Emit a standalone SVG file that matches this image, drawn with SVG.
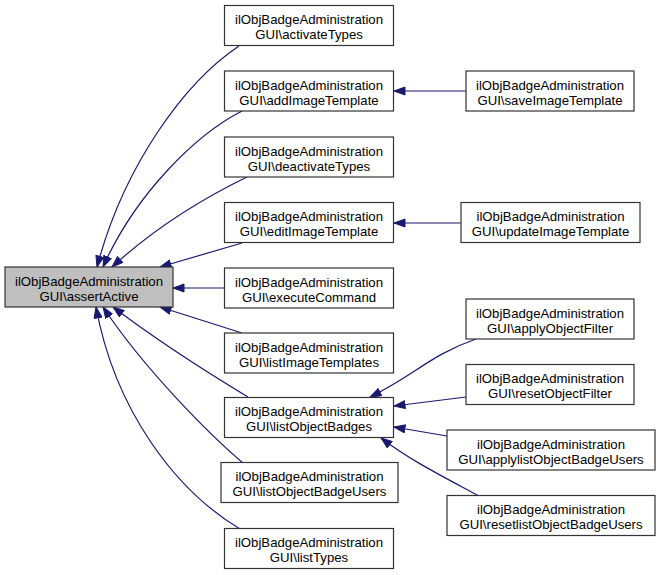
<svg xmlns="http://www.w3.org/2000/svg" width="660" height="575" viewBox="0 0 660 575">
<style>
.n rect{fill:#fff;stroke:#333;stroke-width:1.2}
.n.main rect{fill:#bfbfbf}
.n text{font-family:"Liberation Sans",Arial,sans-serif;font-size:13.2px;fill:#000;text-anchor:middle}
.e path{fill:none;stroke:#191970;stroke-width:1.2;marker-end:url(#ah)}
</style>
<defs>
<marker id="ah" markerUnits="userSpaceOnUse" markerWidth="13" markerHeight="10" refX="11.5" refY="4.5" orient="auto">
<path d="M0.5,0.5 L11.5,4.5 L0.5,8.5 z" fill="#191970" stroke="#191970" stroke-width="1"/>
</marker>
</defs>
<rect width="660" height="575" fill="#fff"/>
<g id="edges" class="e">
<path d="M239,46 C185,82 124,165 97,267"/>
<path d="M242,111 C195,135 135,195 103,267"/>
<path d="M247,177 C210,195 158,225 112,267"/>
<path d="M242,243 L160,267"/>
<path d="M225,288 L173,288"/>
<path d="M242,333 L160,307"/>
<path d="M248,397 C200,368 150,335 113,307"/>
<path d="M243,463 C210,435 145,370 103,307"/>
<path d="M240,529 C175,490 115,410 96,307"/>
<path d="M466,91 L394,91"/>
<path d="M461,223 L394,223"/>
<path d="M476,339 C430,355 415,375 370,397"/>
<path d="M466,397 L394,406"/>
<path d="M447,436 L394,427"/>
<path d="M479,496 C440,475 410,460 381,438"/>
</g>
<g id="assertActive" class="n main"><rect x="5" y="267" width="168" height="40"/><text x="89" y="285.5">ilObjBadgeAdministration</text><text x="89" y="300.5">GUI\assertActive</text></g>
<g id="activateTypes" class="n"><rect x="224.5" y="5.5" width="169" height="40"/><text x="309" y="24">ilObjBadgeAdministration</text><text x="309" y="39">GUI\activateTypes</text></g>
<g id="addImageTemplate" class="n"><rect x="224.5" y="71" width="169" height="40"/><text x="309" y="89.5">ilObjBadgeAdministration</text><text x="309" y="104.5">GUI\addImageTemplate</text></g>
<g id="deactivateTypes" class="n"><rect x="224.5" y="137" width="169" height="40"/><text x="309" y="155.5">ilObjBadgeAdministration</text><text x="309" y="170.5">GUI\deactivateTypes</text></g>
<g id="editImageTemplate" class="n"><rect x="224.5" y="202.5" width="169" height="40"/><text x="309" y="221">ilObjBadgeAdministration</text><text x="309" y="236">GUI\editImageTemplate</text></g>
<g id="executeCommand" class="n"><rect x="224.5" y="268" width="169" height="40"/><text x="309" y="286.5">ilObjBadgeAdministration</text><text x="309" y="301.5">GUI\executeCommand</text></g>
<g id="listImageTemplates" class="n"><rect x="224.5" y="333" width="169" height="40"/><text x="309" y="351.5">ilObjBadgeAdministration</text><text x="309" y="366.5">GUI\listImageTemplates</text></g>
<g id="listObjectBadges" class="n"><rect x="224.5" y="397.5" width="169" height="40"/><text x="309" y="416">ilObjBadgeAdministration</text><text x="309" y="431">GUI\listObjectBadges</text></g>
<g id="listObjectBadgeUsers" class="n"><rect x="221" y="462.5" width="177" height="40"/><text x="309.5" y="481">ilObjBadgeAdministration</text><text x="309.5" y="496">GUI\listObjectBadgeUsers</text></g>
<g id="listTypes" class="n"><rect x="224.5" y="528.5" width="169" height="40"/><text x="309" y="547">ilObjBadgeAdministration</text><text x="309" y="562">GUI\listTypes</text></g>
<g id="saveImageTemplate" class="n"><rect x="466" y="71" width="168" height="40"/><text x="550" y="89.5">ilObjBadgeAdministration</text><text x="550" y="104.5">GUI\saveImageTemplate</text></g>
<g id="updateImageTemplate" class="n"><rect x="461" y="202.5" width="179" height="40"/><text x="550.5" y="221">ilObjBadgeAdministration</text><text x="550.5" y="236">GUI\updateImageTemplate</text></g>
<g id="applyObjectFilter" class="n"><rect x="466" y="299" width="168" height="40"/><text x="550" y="317.5">ilObjBadgeAdministration</text><text x="550" y="332.5">GUI\applyObjectFilter</text></g>
<g id="resetObjectFilter" class="n"><rect x="466" y="364.5" width="168" height="40"/><text x="550" y="383">ilObjBadgeAdministration</text><text x="550" y="398">GUI\resetObjectFilter</text></g>
<g id="applylistObjectBadgeUsers" class="n"><rect x="447" y="430" width="208" height="40"/><text x="551" y="448.5">ilObjBadgeAdministration</text><text x="551" y="463.5">GUI\applylistObjectBadgeUsers</text></g>
<g id="resetlistObjectBadgeUsers" class="n"><rect x="447" y="495.5" width="208" height="40"/><text x="551" y="514">ilObjBadgeAdministration</text><text x="551" y="529">GUI\resetlistObjectBadgeUsers</text></g>
</svg>
